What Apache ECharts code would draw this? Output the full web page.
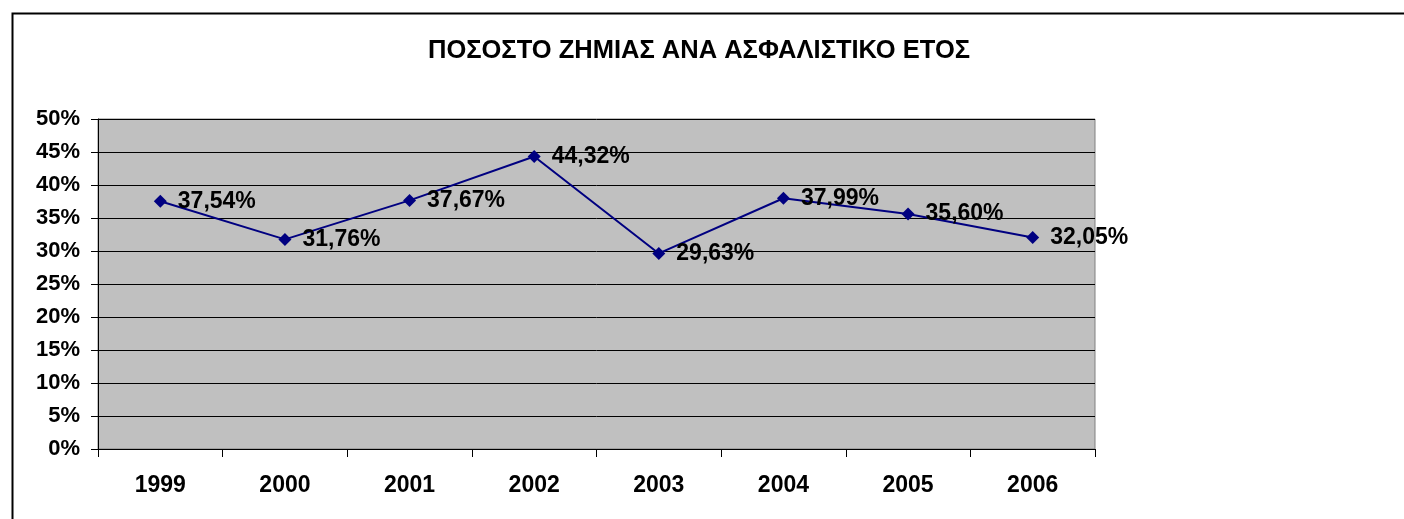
<!DOCTYPE html>
<html>
<head>
<meta charset="utf-8">
<script src="https://cdn.jsdelivr.net/npm/echarts@6/dist/echarts.min.js"></script>
<style>
html,body{margin:0;padding:0;background:#fff;}
#main{width:1404px;height:519px;}
</style>
</head>
<body>
<div id="main"></div>
<script>
const titleText = 'ΠΟΣΟΣΤΟ ΖΗΜΙΑΣ ΑΝΑ ΑΣΦΑΛΙΣΤΙΚΟ ΕΤΟΣ';
const years = ['1999','2000','2001','2002','2003','2004','2005','2006'];
const lossRatio = [37.54, 31.76, 37.67, 44.32, 29.63, 37.99, 35.60, 32.05];
const yTicks = [0, 50, 5];

const chart = echarts.init(document.getElementById('main'));
const font = 'Liberation Sans, Arial, sans-serif';
chart.setOption({
  animation: false,
  backgroundColor: '#fff',
  graphic: [{
    type: 'rect',
    left: 10, top: 11,
    shape: { x: 0, y: 0, width: 1500, height: 600 },
    style: { fill: 'none', stroke: '#000', lineWidth: 2 }
  }],
  title: {
    text: titleText,
    left: 694, top: 33, textAlign: 'center',
    textStyle: { fontFamily: font, fontWeight: 'bold', fontSize: 25.5, color: '#000' }
  },
  grid: {
    left: 98, right: 309, top: 119, bottom: 70,
    show: true, backgroundColor: '#C0C0C0', borderColor: '#808080', borderWidth: 1
  },
  xAxis: {
    type: 'category',
    data: years,
    boundaryGap: true,
    axisLine: { lineStyle: { color: '#000', width: 1 } },
    axisTick: { show: true, length: 8, lineStyle: { color: '#000' } },
    axisLabel: { margin: 25, fontFamily: font, fontWeight: 'bold', fontSize: 23, color: '#000' }
  },
  yAxis: {
    type: 'value',
    min: yTicks[0], max: yTicks[1], interval: yTicks[2],
    axisLine: { show: true, lineStyle: { color: '#000', width: 1 } },
    axisTick: { show: true, length: 7, lineStyle: { color: '#000' } },
    axisLabel: { formatter: '{value}%', margin: 18, fontFamily: font, fontWeight: 'bold', fontSize: 22, color: '#000' },
    splitLine: { show: true, lineStyle: { color: '#000', width: 1 } }
  },
  series: [{
    type: 'line',
    data: lossRatio,
    symbol: 'diamond',
    symbolSize: 13,
    lineStyle: { color: '#000080', width: 2 },
    itemStyle: { color: '#000080' },
    label: {
      show: true, position: 'right', distance: 11,
      formatter: p => p.value.toFixed(2).replace('.', ',') + '%',
      fontFamily: font, fontWeight: 'bold', fontSize: 23, color: '#000'
    }
  }]
});
</script>
</body>
</html>
